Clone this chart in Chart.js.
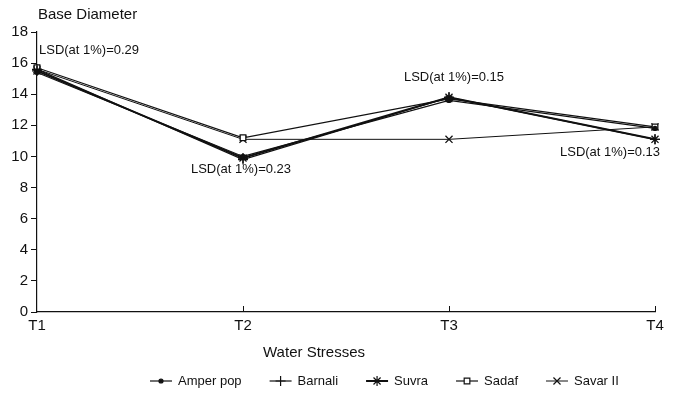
<!DOCTYPE html>
<html>
<head>
<meta charset="utf-8">
<script src="https://cdn.jsdelivr.net/npm/chart.js@4"></script>
<style>
  html, body { margin: 0; padding: 0; background: #fff; }
  #wrap { width: 681px; height: 406px; }
</style>
</head>
<body>
<div id="wrap"><canvas id="chart" width="681" height="406"></canvas></div>
<script>
// --- Data ---
const stresses = ['T1', 'T2', 'T3', 'T4'];
const amperPop = [15.4, 10.0, 13.6, 11.8];
const barnali = [15.6, 9.8, 13.8, 11.1];
const suvra = [15.5, 9.9, 13.8, 11.1];
const sadaf = [15.7, 11.2, 13.7, 11.9];
const savarII = [15.6, 11.1, 11.1, 11.9];
const lsdLabels = ['LSD(at 1%)=0.29', 'LSD(at 1%)=0.23', 'LSD(at 1%)=0.15', 'LSD(at 1%)=0.13'];
const yTicks = [0, 2, 4, 6, 8, 10, 12, 14, 16, 18];

const FONT = "'Liberation Sans', Arial, sans-serif";
const ink = '#111';

function series(label, data, style, radius, width) {
  const fill = style === 'rect' ? '#fff' : ink;
  return {
    label, data,
    borderColor: ink, backgroundColor: fill,
    borderWidth: width, pointStyle: style, pointRadius: radius,
    pointBorderColor: ink, pointBackgroundColor: fill,
    pointBorderWidth: 1.3, tension: 0
  };
}

const datasets = [
  series('Amper pop', amperPop, 'circle', 2, 1.2),
  series('Barnali', barnali, 'cross', 5, 1.2),
  series('Suvra', suvra, 'star', 5, 2),
  series('Sadaf', sadaf, 'rect', 4, 1.2),
  series('Savar II', savarII, 'crossRot', 5, 1)
];

// --- Annotations, axis title, legend drawn by hand ---
const extras = {
  id: 'extras',
  afterDraw(chart) {
    const ctx = chart.ctx;
    const x = chart.scales.x, y = chart.scales.y;
    ctx.save();
    ctx.fillStyle = ink;
    ctx.textBaseline = 'middle';

    // small inward ticks on the x axis
    ctx.strokeStyle = ink;
    ctx.lineWidth = 1;
    for (let i = 1; i < stresses.length; i++) {
      const px = Math.round(x.getPixelForValue(i)) + 0.5;
      ctx.beginPath();
      ctx.moveTo(px, y.bottom);
      ctx.lineTo(px, y.bottom - 6);
      ctx.stroke();
    }

    // title top-left
    ctx.font = '15px ' + FONT;
    ctx.textAlign = 'left';
    ctx.fillText('Base Diameter', 38, 15);

    // LSD notes, placed next to each group of points
    ctx.font = '13px ' + FONT;
    const top = i => Math.max(...datasets.map(d => d.data[i]));
    const low = i => Math.min(...datasets.map(d => d.data[i]));
    ctx.textAlign = 'left';
    ctx.fillText(lsdLabels[0], x.getPixelForValue(0) + 2, y.getPixelForValue(top(0)) - 17);
    ctx.textAlign = 'center';
    ctx.fillText(lsdLabels[1], x.getPixelForValue(1) - 2, y.getPixelForValue(low(1)) + 10);
    ctx.fillText(lsdLabels[2], x.getPixelForValue(2) + 5, y.getPixelForValue(top(2)) - 20);
    ctx.textAlign = 'left';
    ctx.fillText(lsdLabels[3], x.getPixelForValue(3) - 95, y.getPixelForValue(low(3)) + 13);

    // x axis title
    ctx.font = '15px ' + FONT;
    ctx.textAlign = 'center';
    ctx.fillText('Water Stresses', 314, 353);

    // legend
    ctx.font = '13px ' + FONT;
    ctx.textAlign = 'left';
    let lx = 150;
    const ly = 381;
    datasets.forEach(d => {
      ctx.strokeStyle = ink;
      ctx.lineWidth = d.borderWidth;
      ctx.beginPath();
      ctx.moveTo(lx, ly);
      ctx.lineTo(lx + 22, ly);
      ctx.stroke();
      ctx.lineWidth = 1.2;
      ctx.fillStyle = d.pointBackgroundColor;
      Chart.helpers.drawPoint(ctx, {
        pointStyle: d.pointStyle, radius: d.pointRadius, borderWidth: 1.2
      }, lx + 11, ly);
      ctx.fillStyle = ink;
      ctx.fillText(d.label, lx + 28, ly);
      lx += 28 + ctx.measureText(d.label).width + 28;
    });
    ctx.restore();
  }
};

new Chart(document.getElementById('chart'), {
  type: 'line',
  data: { labels: stresses, datasets },
  options: {
    responsive: false,
    animation: false,
    layout: { padding: { top: 32, right: 26, left: 0, bottom: 0 } },
    plugins: { legend: { display: false }, tooltip: { enabled: false } },
    scales: {
      x: {
        offset: false,
        afterFit(s) { s.height = 94; },
        border: { color: ink, width: 1.2 },
        grid: { drawOnChartArea: false, drawTicks: false },
        ticks: { color: ink, font: { family: FONT, size: 15 }, padding: 5, maxRotation: 0 }
      },
      y: {
        min: 0, max: 18,
        afterFit(s) { s.width = 37; },
        afterBuildTicks(s) { s.ticks = yTicks.map(v => ({ value: v })); },
        border: { color: ink, width: 1.2 },
        grid: { drawOnChartArea: false, drawTicks: true, tickLength: 6, color: ink },
        ticks: { color: ink, font: { family: FONT, size: 15 }, padding: 3 }
      }
    }
  },
  plugins: [extras]
});
</script>
</body>
</html>
